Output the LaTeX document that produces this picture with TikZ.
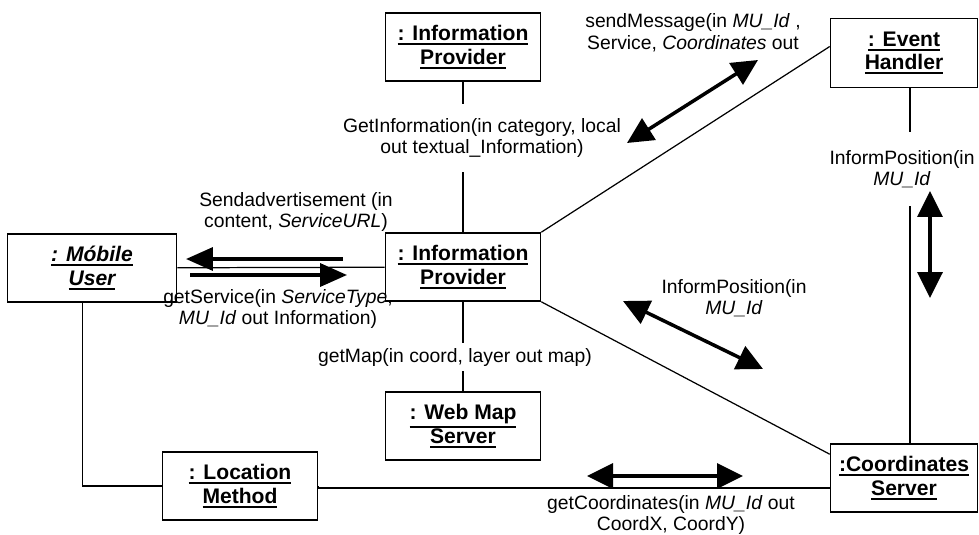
\documentclass[tikz,border=0pt]{standalone}
\usepackage{fontspec}
\setmainfont{Liberation Sans}
\usetikzlibrary{arrows.meta}
\newcommand{\ulab}[1]{\vtop{\hbox{#1}\kern1.2pt\hrule height 1.1pt}}

\begin{document}
\begin{tikzpicture}[x=0.02cm,y=-0.02cm,
   obj/.style={draw, line width=0.9pt, minimum width=3.1cm, minimum height=1.36cm, align=center, inner sep=0pt, font=\bfseries\fontsize{12}{13.5}\selectfont},
   lbl/.style={align=center, inner sep=1pt, font=\fontsize{11}{12.3}\selectfont},
   link/.style={line width=0.7pt},
   dblarrow/.style={line width=2pt, {Triangle[length=0.52cm,width=0.5cm]}-{Triangle[length=0.52cm,width=0.5cm]}},
   onearrow/.style={line width=2pt, -{Triangle[length=0.54cm,width=0.46cm]}}]
   \useasboundingbox (0,0) rectangle (979,534);
   % objects
   \node[obj, minimum width=3.38cm] (mu) at (92,268) {\textit{\ulab{: Móbile}}\\\textit{\ulab{User}}};
   \node[obj] (ipTop) at (463,47) {\ulab{: Information}\\\ulab{Provider}};
   \node[obj] (ip) at (463,267) {\ulab{: Information}\\\ulab{Provider}};
   \node[obj] (wms) at (463,426) {\ulab{: Web Map}\\\ulab{Server}};
   \node[obj] (lm) at (240,486) {\ulab{: Location}\\\ulab{Method}};
   \node[obj, minimum width=2.94cm, minimum height=1.38cm] (eh) at (904,53) {\ulab{: Event}\\\ulab{Handler}};
   \node[obj, minimum width=2.94cm] (cs) at (904,478) {\ulab{:Coordinates}\\\ulab{Server}};
   % links
   \draw[link] (mu) -- (ip);
   \draw[link] (ipTop) -- (ip);
   \draw[link] (ip) -- (wms);
   \draw[link] (ip.north east) -- ([yshift=0.13cm]eh.west);
   \draw[link] (ip.south east) -- ([yshift=-0.22cm]cs.north west);
   \draw[link] (lm.west) -| ([xshift=-0.19cm]mu.south);
   \draw[link] (lm.east) -- (lm.east |- 0,488) -- (lm.east |- 0,488 -| cs.west);
   \draw[link] ([xshift=0.12cm]eh.south) -- ([xshift=0.12cm]cs.north);
   % messages
   \node[lbl, fill=white, inner ysep=8pt] (getInfo) at (482,138) {GetInformation(in category, local\\out textual\_Information)};
   \node[lbl, fill=white, inner ysep=3pt] (getMap) at (455,357) {getMap(in coord, layer out map)};
   \node[lbl, fill=white, inner ysep=10pt] (posEh) at (902,169) {InformPosition(in\\\textit{MU\_Id}};
   \node[lbl] (adv) at (296,212) {Sendadvertisement (in\\content, \textit{ServiceURL})};
   \node[lbl] (svc) at (278,309) {getService(in \textit{ServiceType},\\\textit{MU\_Id} out Information)};
   \node[lbl] (send) at (693,33) {sendMessage(in \textit{MU\_Id} ,\\Service, \textit{Coordinates} out};
   \node[lbl] (posIp) at (734,298) {InformPosition(in\\\textit{MU\_Id}};
   \node[lbl] (getCrd) at (671,515) {getCoordinates(in \textit{MU\_Id} out\\CoordX, CoordY)};
   % arrows
   \coordinate (advA) at (343,259); \coordinate (advB) at (186,259);
   \coordinate (svcA) at (190,275); \coordinate (svcB) at (347,275);
   \coordinate (sendA) at (627,143); \coordinate (sendB) at (758,60);
   \coordinate (posIpA) at (623,301); \coordinate (posIpB) at (763,369);
   \coordinate (posEhA) at (930,191); \coordinate (posEhB) at (930,298);
   \coordinate (crdA) at (587,476); \coordinate (crdB) at (743,476);
   \draw[onearrow] (advA) -- (advB);
   \draw[onearrow] (svcA) -- (svcB);
   \draw[dblarrow] (sendA) -- (sendB);
   \draw[dblarrow] (posIpA) -- (posIpB);
   \draw[dblarrow] (posEhA) -- (posEhB);
   \draw[dblarrow] (crdA) -- (crdB);
\end{tikzpicture}
\end{document}
